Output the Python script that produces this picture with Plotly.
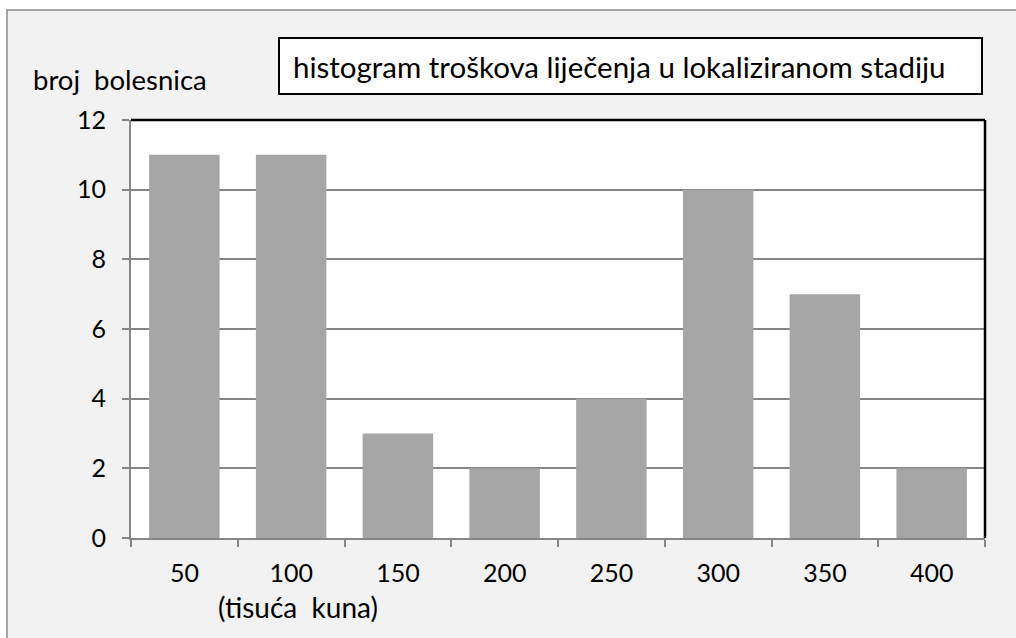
import plotly.graph_objects as go

categories = ["50", "100", "150", "200", "250", "300", "350", "400"]
counts = [11, 11, 3, 2, 4, 10, 7, 2]
y_ticks = [0, 2, 4, 6, 8, 10, 12]

W, H = 1016, 638
L, R, T, B = 131, 31, 120, 100
PW, PH = W - L - R, H - T - B


def px_x(x):
    return (x - L) / PW


def px_y(y):
    return (H - B - y) / PH


fig = go.Figure()
fig.add_trace(go.Bar(
    x=categories,
    y=counts,
    marker=dict(color="#A6A6A6", line=dict(width=0)),
    width=0.66,
    showlegend=False,
))

font = "Lato, 'Open Sans', sans-serif"

fig.update_layout(
    width=W, height=H,
    margin=dict(l=L, r=R, t=T, b=B),
    paper_bgcolor="white",
    plot_bgcolor="white",
    font=dict(family=font, color="black"),
    xaxis=dict(
        type="category",
        tickson="boundaries",
        ticks="outside", ticklen=7, tickcolor="#868686", tickwidth=2,
        showline=True, linecolor="#868686", linewidth=2,
        showgrid=False,
        tickfont=dict(size=25, family=font),
        ticklabelstandoff=12,
    ),
    yaxis=dict(
        range=[0, 12],
        tickvals=y_ticks,
        ticks="outside", ticklen=7, tickcolor="#868686", tickwidth=2,
        showline=True, linecolor="#868686", linewidth=2,
        gridcolor="#868686", gridwidth=1.5,
        tickfont=dict(size=25, family=font),
        ticklabelstandoff=11,
        zeroline=False,
    ),
    shapes=[
        # outer chart area
        dict(type="rect", xref="paper", yref="paper",
             x0=px_x(7), x1=px_x(1030), y0=px_y(660), y1=px_y(10),
             line=dict(color="#8C8C8C", width=1.5), fillcolor="#F2F2F2",
             layer="below"),
        # white plot area
        dict(type="rect", xref="paper", yref="paper", x0=0, x1=1, y0=0, y1=1,
             line=dict(width=0), fillcolor="white", layer="below"),
        # top and right black border
        dict(type="line", xref="paper", yref="paper", x0=0, x1=1, y0=1, y1=1,
             line=dict(color="black", width=2.5)),
        dict(type="line", xref="paper", yref="paper", x0=1, x1=1, y0=0, y1=1,
             line=dict(color="black", width=2.5)),
        # title box
        dict(type="rect", xref="paper", yref="paper",
             x0=px_x(279), x1=px_x(982), y0=px_y(94), y1=px_y(38),
             line=dict(color="black", width=2), fillcolor="white"),
    ],
    annotations=[
        dict(text="histogram troškova liječenja u lokaliziranom stadiju",
             xref="paper", yref="paper", x=px_x(291), y=px_y(67),
             xanchor="left", yanchor="middle", showarrow=False,
             font=dict(size=29.5, family=font)),
        dict(text="broj&nbsp; bolesnica",
             xref="paper", yref="paper", x=px_x(31), y=px_y(80),
             xanchor="left", yanchor="middle", showarrow=False,
             font=dict(size=27.5, family=font)),
        dict(text="(tisuća&nbsp; kuna)",
             xref="paper", yref="paper", x=px_x(298), y=px_y(607),
             xanchor="center", yanchor="middle", showarrow=False,
             font=dict(size=28, family=font)),
    ],
)

fig.write_html("out.html", config={"displayModeBar": False},
               post_script="document.body.style.margin='0';")
